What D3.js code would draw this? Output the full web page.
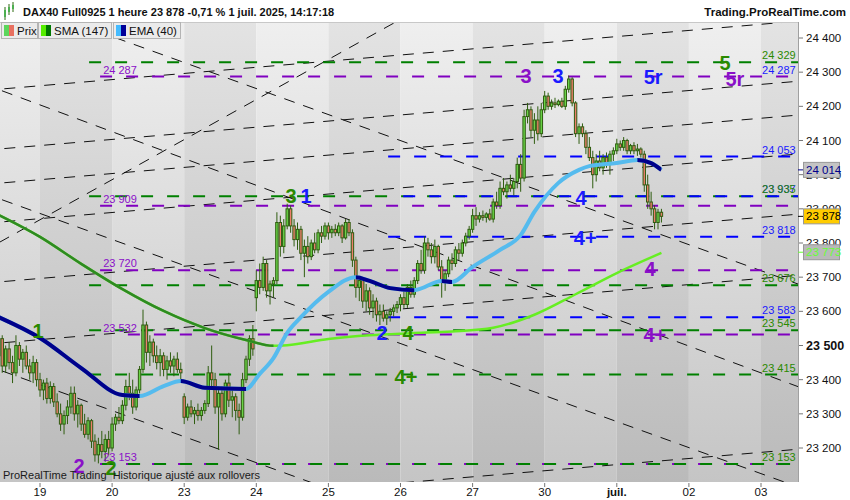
<!DOCTYPE html>
<html>
<head>
<meta charset="utf-8">
<script src="https://cdn.jsdelivr.net/npm/d3@7"></script>
<style>
  body { margin: 0; background: #fff; }
  svg text { font-family: "Liberation Sans", Arial, sans-serif; }
</style>
</head>
<body>
<svg id="chart" width="850" height="500"></svg>
<script>
// jours affichés sur l'axe du bas (21 barres horaires par séance)
const dayLabels = ['19', '20', '23', '24', '25', '26', '27', '30', 'juil.', '02', '03']
const barsPerDay = 21
const firstDayBar = 12

// bougies horaires [open, high, low, close]
const candles = [
  // 18 juin (fin)
  [23470,23545,23440,23520],[23520,23530,23420,23440],[23440,23500,23420,23490],[23490,23510,23430,23450],
  [23450,23470,23390,23420],[23420,23530,23410,23500],[23500,23510,23440,23460],[23460,23490,23420,23480],
  [23480,23500,23430,23440],[23440,23460,23400,23420],[23420,23470,23390,23450],[23450,23460,23380,23400],
  // 19
  [23400,23420,23350,23370],[23370,23400,23340,23390],[23390,23405,23330,23345],[23345,23395,23330,23380],
  [23380,23390,23320,23335],[23335,23360,23290,23300],[23300,23330,23250,23270],[23270,23310,23240,23295],
  [23295,23340,23270,23320],[23320,23380,23300,23360],[23360,23380,23280,23300],[23300,23340,23260,23325],
  [23325,23330,23250,23270],[23270,23300,23230,23240],[23240,23290,23225,23280],[23280,23285,23200,23220],
  [23220,23240,23160,23180],[23180,23230,23155,23210],[23210,23250,23170,23190],[23190,23240,23160,23225],
  [23225,23250,23180,23200],
  // 20
  [23200,23290,23190,23270],[23270,23300,23250,23290],[23290,23320,23270,23280],[23280,23340,23270,23325],
  [23325,23400,23310,23380],[23380,23420,23340,23360],[23360,23400,23300,23320],[23320,23380,23310,23370],
  [23370,23440,23360,23430],[23430,23605,23420,23560],[23560,23570,23450,23480],[23480,23530,23440,23510],
  [23510,23520,23450,23470],[23470,23500,23430,23450],[23450,23490,23410,23470],[23470,23480,23410,23430],
  [23430,23470,23400,23455],[23455,23480,23420,23440],[23440,23470,23410,23460],[23460,23480,23420,23430],
  [23430,23450,23400,23420],
  // 23
  [23350,23360,23270,23290],[23290,23330,23280,23320],[23320,23340,23290,23300],[23300,23320,23270,23310],
  [23310,23330,23280,23295],[23295,23320,23280,23310],[23310,23340,23300,23330],[23330,23440,23320,23420],
  [23420,23500,23380,23400],[23400,23420,23300,23320],[23320,23380,23195,23360],[23360,23380,23280,23300],
  [23300,23400,23290,23390],[23390,23420,23320,23340],[23340,23370,23290,23350],[23350,23360,23280,23310],
  [23310,23330,23240,23290],[23290,23420,23280,23400],[23400,23470,23390,23460],[23460,23530,23440,23520],
  [23520,23560,23470,23490],
  // 24
  [23640,23720,23600,23690],[23690,23740,23650,23670],[23670,23760,23660,23740],[23740,23750,23640,23660],
  [23660,23690,23620,23680],[23680,23700,23640,23690],[23690,23890,23680,23860],[23860,23880,23760,23790],
  [23790,23870,23770,23850],[23850,23915,23840,23900],[23900,23910,23830,23850],[23850,23870,23790,23810],
  [23810,23860,23780,23840],[23840,23850,23750,23770],[23770,23810,23700,23790],[23790,23820,23740,23760],
  [23760,23810,23750,23800],[23800,23830,23770,23780],[23780,23840,23770,23830],[23830,23850,23800,23820],
  [23820,23860,23810,23850],
  // 25
  [23850,23860,23810,23830],[23830,23850,23815,23840],[23840,23855,23820,23830],[23830,23860,23820,23850],
  [23850,23855,23800,23815],[23815,23870,23810,23860],[23860,23870,23820,23830],[23830,23840,23730,23750],
  [23750,23760,23640,23670],[23670,23700,23630,23690],[23690,23700,23610,23630],[23630,23680,23600,23660],
  [23660,23670,23590,23610],[23610,23650,23580,23630],[23630,23640,23570,23590],[23590,23620,23560,23600],
  [23600,23620,23570,23580],[23580,23600,23560,23590],[23590,23610,23570,23600],[23600,23620,23585,23610],
  [23610,23630,23595,23620],
  // 26
  [23620,23650,23600,23640],[23640,23660,23610,23620],[23620,23680,23610,23670],[23670,23690,23640,23650],
  [23650,23700,23640,23690],[23690,23750,23680,23740],[23740,23780,23710,23720],[23720,23820,23710,23800],
  [23800,23815,23760,23780],[23780,23800,23740,23760],[23760,23810,23740,23790],[23790,23795,23720,23730],
  [23730,23750,23640,23690],[23690,23720,23660,23710],[23710,23760,23700,23750],[23750,23770,23720,23740],
  [23740,23790,23730,23780],[23780,23800,23750,23770],[23770,23810,23760,23800],[23800,23830,23790,23820],
  [23820,23850,23810,23840],
  // 27
  [23840,23900,23830,23880],[23880,23905,23850,23870],[23870,23890,23860,23880],[23880,23895,23865,23875],
  [23875,23890,23860,23885],[23885,23900,23865,23870],[23870,23930,23860,23920],[23920,23950,23900,23910],
  [23910,23980,23900,23960],[23960,23990,23940,23950],[23950,23980,23930,23970],[23970,24000,23950,23960],
  [23960,23990,23940,23980],[23980,24050,23960,24030],[24030,24060,23950,23990],[23990,24190,23980,24170],
  [24170,24210,24150,24190],[24190,24200,24110,24130],[24130,24180,24090,24160],[24160,24200,24100,24120],
  [24120,24210,24110,24190],
  // 30
  [24190,24245,24180,24230],[24230,24240,24190,24200],[24200,24220,24190,24210],[24210,24225,24195,24205],
  [24205,24220,24200,24215],[24215,24225,24195,24200],[24200,24260,24190,24250],[24250,24290,24240,24280],
  [24280,24285,24200,24210],[24210,24215,24110,24120],[24120,24150,24090,24140],[24140,24150,24110,24120],
  [24120,24130,24060,24080],[24080,24110,24040,24050],[24050,24070,23960,24000],[24000,24060,23980,24040],
  [24040,24070,24010,24020],[24020,24060,24000,24050],[24050,24065,24020,24030],[24030,24070,24000,24060],
  [24060,24080,24040,24070],
  // 1 juil.
  [24070,24105,24060,24090],[24090,24100,24070,24080],[24080,24110,24070,24100],[24100,24105,24060,24070],
  [24070,24090,24060,24085],[24085,24095,24060,24070],[24070,24090,24055,24075],[24075,24080,24050,24060],
  [24060,24070,23950,23970],[23970,24000,23900,23920],[23920,23950,23880,23900],[23900,23910,23840,23860],
  [23860,23900,23840,23890],[23890,23900,23860,23878]
]

// moyennes mobiles (par index de barre)
const smaBars = [0, 12, 24, 36, 48, 60, 72, 80, 84, 96, 108, 120, 132, 144, 156, 168, 180, 193]
const smaVals = [23882, 23818, 23739, 23665, 23601, 23551, 23516, 23499, 23501, 23519, 23530, 23536, 23541, 23552, 23590, 23650, 23712, 23771]
const emaBars = [0, 12, 24, 36, 41, 48, 53, 60, 72, 76, 80, 84, 88, 96, 104, 108, 114, 121, 129, 132, 138, 146, 152, 156, 163, 169, 172, 180, 186, 190, 193]
const emaVals = [23583, 23522, 23434, 23355, 23352, 23381, 23396, 23376, 23373, 23417, 23463, 23537, 23583, 23657, 23700, 23689, 23668, 23662, 23689, 23686, 23730, 23780, 23823, 23891, 23976, 24014, 24025, 24034, 24043, 24034, 24014]

// axe des prix
const priceTicks = [24400, 24300, 24200, 24100, 24000, 23900, 23800, 23700, 23600, 23500, 23400, 23300, 23200]

// niveaux horizontaux : [prix, couleur, barre de départ]
const levels = [
  [24329, 'green', 26.3], [24287, 'purple', 29.5], [24053, 'blue', 113.4],
  [23937, 'green', 26.3], [23937, 'blue', 114], [23909, 'purple', 29.5],
  [23818, 'blue', 113.4], [23720, 'purple', 29.5], [23676, 'green', 26.3],
  [23583, 'blue', 113.4], [23545, 'green', 26.3], [23532, 'purple', 37.6],
  [23415, 'green', 26.3], [23153, 'purple', 29.5], [23153, 'green', 26.3]
]
const leftLabels = [['24 287', 24287], ['23 909', 23909], ['23 720', 23720], ['23 532', 23532], ['23 153', 23153]]
const rightLabels = [
  ['24 329', 24329, 'green'], ['24 287', 24287, 'blue'], ['24 053', 24053, 'blue'],
  ['23 937', 23937, 'blue'], ['23 935', 23937, 'green'], ['23 818', 23818, 'blue'],
  ['23 676', 23676, 'green'], ['23 583', 23583, 'blue'], ['23 545', 23545, 'green'],
  ['23 415', 23415, 'green'], ['23 153', 23153, 'green']
]

// droites de tendance : [barre1, prix1, barre2, prix2]
const trendLines = [
  [0, 24250, 230, 24447], [0, 24075, 230, 24271], [0, 23975, 230, 24172], [0, 23861, 230, 24058],
  [0, 23686, 230, 23882], [0, 23507, 230, 23703], [0, 22998, 230, 23194],
  [0, 24524, 230, 23690], [0, 24249, 230, 23390], [0, 23930, 230, 23096], [0, 23429, 230, 22595],
  [0, 23801, 116, 24449]
]

// repères de vagues : [texte, couleur, barre, prix]
const markers = [
  ['1', 'green', 11.4, 23542], ['2', 'purple', 23.4, 23147], ['2', 'green', 32.7, 23141],
  ['3', 'green', 85.1, 23938], ['1', 'blue', 89.5, 23938], ['2', 'blue', 111.6, 23537],
  ['4', 'green', 119.2, 23537], ['4+', 'green', 118.6, 23408], ['3', 'purple', 153.6, 24289],
  ['3', 'blue', 162.9, 24289], ['4', 'blue', 169.6, 23932], ['4+', 'blue', 170.8, 23815],
  ['5r', 'blue', 190.6, 24286], ['5', 'green', 211.5, 24327], ['5r', 'purple', 214.4, 24280],
  ['4', 'purple', 189.7, 23724], ['4+', 'purple', 191.1, 23531]
]

// étiquettes de valeur sur l'axe : [texte, prix, fond, texte]
const valueBoxes = [['24 014', 24014, '#c4c4c4', '#00008b'], ['23 773', 23773, '#b9b9b9', '#66ff33'], ['23 878', 23878, '#ffcc00', '#000']]

const COL = { green: '#008000', purple: '#8000c0', blue: '#0000ff' }
const TXT = { green: '#2a8a00', purple: '#8a10c8', blue: '#1a1aff' }

const W = 850, H = 500
const plot = { left: 0, right: 798, top: 22, bottom: 482 }
const svg = d3.select('#chart')
const defs = svg.append('defs')

const x = d3.scaleLinear().domain([firstDayBar, firstDayBar + 10 * barsPerDay]).range([40, 761])
const y = d3.scaleLinear().domain([23200, 24400]).range([448, 38])

defs.append('clipPath').attr('id', 'plot-clip')
  .append('rect').attr('x', plot.left).attr('y', plot.top)
  .attr('width', plot.right - plot.left).attr('height', plot.bottom - plot.top)

// dégradés de fond (bandes alternées par jour)
function grad(id, top, bottom) {
  const lg = defs.append('linearGradient').attr('id', id)
    .attr('gradientUnits', 'userSpaceOnUse').attr('x1', 0).attr('x2', 0).attr('y1', plot.top).attr('y2', plot.bottom)
  lg.append('stop').attr('offset', 0).attr('stop-color', top)
  lg.append('stop').attr('offset', 1).attr('stop-color', bottom)
}
grad('band-light', '#efefef', '#c5c5c5')
grad('band-dark', '#e3e3e3', '#bababa')

svg.append('rect').attr('width', W).attr('height', H).attr('fill', '#fff')

const g = svg.append('g').attr('clip-path', 'url(#plot-clip)')

for (let k = -1; k < dayLabels.length; k++) {
  const b0 = k < 0 ? -30 : firstDayBar + k * barsPerDay
  const b1 = k === dayLabels.length - 1 ? 260 : firstDayBar + (k + 1) * barsPerDay
  g.append('rect')
    .attr('x', x(b0)).attr('y', plot.top)
    .attr('width', x(b1) - x(b0)).attr('height', plot.bottom - plot.top)
    .attr('fill', k >= 0 && k % 2 === 0 ? 'url(#band-dark)' : 'url(#band-light)')
}

// droites de tendance prolongées sur toute la largeur
trendLines.forEach(([b1, p1, b2, p2]) => {
  const s = (p2 - p1) / (b2 - b1)
  const xa = -10, xb = 240
  g.append('line')
    .attr('x1', x(xa)).attr('y1', y(p1 + s * (xa - b1)))
    .attr('x2', x(xb)).attr('y2', y(p1 + s * (xb - b1)))
    .attr('stroke', '#111').attr('stroke-width', 1)
    .attr('stroke-dasharray', '11,9')
})

// niveaux horizontaux
levels.forEach(([p, c, from], i) => {
  const dup = levels.findIndex(l => l[0] === p) !== i
  g.append('line')
    .attr('x1', x(from)).attr('x2', plot.right)
    .attr('y1', y(p)).attr('y2', y(p))
    .attr('stroke', COL[c]).attr('stroke-width', 2)
    .attr('stroke-dasharray', '12,14')
    .attr('stroke-dashoffset', dup ? 13 : 0)
})

// bougies
const candleG = g.append('g')
candles.forEach(([o, h, l, c], i) => {
  const cx = x(i)
  candleG.append('line')
    .attr('x1', cx).attr('x2', cx).attr('y1', y(h)).attr('y2', y(l))
    .attr('stroke', '#2f5d10').attr('stroke-width', 1)
  const top = y(Math.max(o, c)), bot = y(Math.min(o, c))
  candleG.append('rect')
    .attr('x', cx - 1.2).attr('width', 2.4)
    .attr('y', top).attr('height', Math.max(1, bot - top))
    .attr('fill', c >= o ? '#6ad448' : '#ec7e6c')
    .attr('stroke', '#2f5d10').attr('stroke-width', 1)
})

// moyennes mobiles : couleur claire en hausse, foncée en baisse
function drawMA(bars, vals, light, dark, width, id) {
  const pts = bars.map((b, k) => [x(b), y(vals[k])])
  const line = d3.line().curve(d3.curveMonotoneX)
  const clip = defs.append('clipPath').attr('id', id)
  for (let k = 1; k < vals.length; k++) {
    if (vals[k] < vals[k - 1]) {
      clip.append('rect').attr('x', pts[k - 1][0]).attr('y', 0)
        .attr('width', pts[k][0] - pts[k - 1][0]).attr('height', H)
    }
  }
  g.append('path').attr('d', line(pts)).attr('fill', 'none')
    .attr('stroke', light).attr('stroke-width', width).attr('stroke-linejoin', 'round')
  g.append('path').attr('d', line(pts)).attr('fill', 'none')
    .attr('stroke', dark).attr('stroke-width', width).attr('stroke-linejoin', 'round')
    .attr('clip-path', `url(#${id})`)
}
drawMA(smaBars, smaVals, '#66ee22', '#2e8a22', 2.5, 'sma-down')
drawMA(emaBars, emaVals, '#55bbee', '#00008b', 4, 'ema-down')

// étiquettes des niveaux
leftLabels.forEach(([t, p]) => {
  g.append('text').attr('x', x(30.4)).attr('y', y(p) - 3)
    .attr('font-size', 11).attr('fill', TXT.purple).text(t)
})
rightLabels.forEach(([t, p, c]) => {
  g.append('text').attr('x', x(222.3)).attr('y', y(p) - 3)
    .attr('font-size', 11).attr('fill', TXT[c]).text(t)
})

// repères de vagues
markers.forEach(([t, c, b, p]) => {
  g.append('text').attr('x', x(b)).attr('y', y(p) + 7)
    .attr('text-anchor', 'middle').attr('font-size', 20).attr('font-weight', 'bold')
    .attr('fill', TXT[c]).text(t)
})

g.append('text').attr('x', 3).attr('y', 479)
  .attr('font-size', 11).attr('fill', '#1a1a1a').style('white-space', 'pre')
  .text('ProRealTime Trading  Historique ajusté aux rollovers')

// bordures
svg.append('line').attr('x1', 0).attr('x2', plot.right).attr('y1', plot.top + 0.5).attr('y2', plot.top + 0.5).attr('stroke', '#c8c8c8')
svg.append('line').attr('x1', plot.right + 0.5).attr('x2', plot.right + 0.5).attr('y1', plot.top).attr('y2', plot.bottom).attr('stroke', '#a0a0a0')

// axe des prix (droite)
priceTicks.forEach(p => {
  svg.append('line').attr('x1', plot.right + 1).attr('x2', plot.right + 5)
    .attr('y1', y(p)).attr('y2', y(p)).attr('stroke', '#777')
  const bold = p === 23500
  svg.append('text').attr('x', 806).attr('y', y(p) + 4)
    .attr('font-size', bold ? 12.5 : 11.5).attr('font-weight', bold ? 'bold' : 'normal')
    .attr('fill', '#111').text(d3.format(',')(p).replace(',', ' '))
})
valueBoxes.forEach(([t, p, bg, fg]) => {
  svg.append('line').attr('x1', plot.right).attr('x2', plot.right + 5)
    .attr('y1', y(p)).attr('y2', y(p)).attr('stroke', fg)
  svg.append('rect').attr('x', 803.5).attr('y', y(p) - 7.5).attr('width', 36).attr('height', 15)
    .attr('fill', bg).attr('stroke', '#999')
  svg.append('text').attr('x', 806).attr('y', y(p) + 4)
    .attr('font-size', 11.5).attr('fill', fg).text(t)
})

// axe du temps (bas)
dayLabels.forEach((d, k) => {
  const bx = x(firstDayBar + k * barsPerDay)
  svg.append('line').attr('x1', bx).attr('x2', bx).attr('y1', plot.bottom + 1).attr('y2', plot.bottom + 5).attr('stroke', '#777')
  svg.append('text').attr('x', bx).attr('y', 496).attr('text-anchor', 'middle')
    .attr('font-size', 11.5).attr('font-weight', d === 'juil.' ? 'bold' : 'normal')
    .attr('fill', '#111').text(d)
})

// en-tête
const icon = svg.append('g')
;[[4, 7, 13, '#4caf50'], [8, 4, 11, '#4caf50'], [12, 2, 10, '#4caf50']].forEach(([ix, iy, ih, ic]) => {
  icon.append('line').attr('x1', ix + 1).attr('x2', ix + 1).attr('y1', iy).attr('y2', iy + ih).attr('stroke', '#2f6d10')
  icon.append('rect').attr('x', ix).attr('y', iy + 3).attr('width', 2).attr('height', ih - 6).attr('fill', ic)
})
svg.append('text').attr('x', 23).attr('y', 16).attr('font-size', 11).attr('font-weight', 'bold')
  .attr('fill', '#111').text('DAX40 Full0925 1 heure 23 878 -0,71 % 1 juil. 2025, 14:17:18')
svg.append('text').attr('x', 846).attr('y', 16).attr('text-anchor', 'end').attr('font-size', 11.5).attr('font-weight', 'bold')
  .attr('fill', '#111').text('Trading.ProRealTime.com')

// légende
const legend = [['Prix', '#5cd65c', '#e87060', 1, 37], ['SMA (147)', '#55ee00', '#007700', 38, 111], ['EMA (40)', '#44bbff', '#000099', 113, 180]]
legend.forEach(([t, c1, c2, x0, x1]) => {
  svg.append('rect').attr('x', x0 + 0.5).attr('y', plot.top + 0.5).attr('width', x1 - x0).attr('height', 16)
    .attr('fill', '#ebebeb').attr('stroke', '#b4b4b4')
  svg.append('rect').attr('x', x0 + 3).attr('y', plot.top + 3).attr('width', 5).attr('height', 11).attr('fill', c1)
  svg.append('rect').attr('x', x0 + 8).attr('y', plot.top + 3).attr('width', 5).attr('height', 11).attr('fill', c2)
  svg.append('text').attr('x', x0 + 16).attr('y', plot.top + 12.5).attr('font-size', 11.5).attr('fill', '#111').text(t)
})
</script>
</body>
</html>
